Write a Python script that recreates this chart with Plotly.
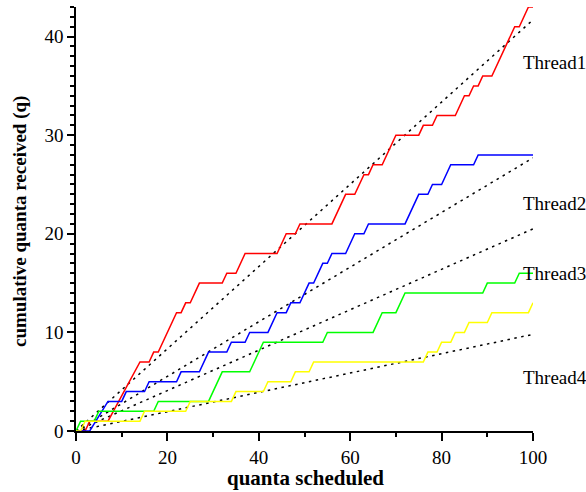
import plotly.graph_objects as go

# ---- data ----
t1_x = [0, 2, 3, 7, 14, 16, 17, 18, 22, 23, 24, 25, 27, 32, 33, 35, 37, 44, 46, 48, 49, 56, 59, 61, 63, 64, 65, 67, 70, 75, 76, 78, 79, 83, 85, 86, 87, 88, 89, 91, 96, 97, 99, 100]
t1_y = [0, 0, 1, 1, 7, 7, 8, 8, 12, 12, 13, 13, 15, 15, 16, 16, 18, 18, 20, 20, 21, 21, 24, 24, 26, 26, 27, 27, 30, 30, 31, 31, 32, 32, 34, 34, 35, 35, 36, 36, 41, 41, 43, 43]

t2_x = [0, 3, 7, 10, 11, 15, 16, 22, 23, 27, 29, 33, 34, 37, 38, 42, 44, 46, 47, 49, 51, 52, 54, 55, 56, 59, 61, 63, 64, 72, 75, 77, 78, 80, 82, 87, 88, 100]
t2_y = [0, 0, 3, 3, 4, 4, 5, 5, 6, 6, 8, 8, 9, 9, 10, 10, 12, 12, 13, 13, 15, 15, 17, 17, 18, 18, 20, 20, 21, 21, 24, 24, 25, 25, 27, 27, 28, 28]

t3_x = [0, 1, 4, 5, 17, 18, 29, 32, 38, 41, 54, 55, 65, 67, 70, 72, 89, 90, 96, 97, 100]
t3_y = [0, 1, 1, 2, 2, 3, 3, 6, 6, 9, 9, 10, 10, 12, 12, 14, 14, 15, 15, 16, 16]

t4_x = [0, 1, 2, 14, 15, 24, 25, 34, 35, 41, 42, 47, 48, 51, 52, 76, 77, 79, 80, 82, 83, 85, 86, 90, 91, 99, 100]
t4_y = [0, 0, 1, 1, 2, 2, 3, 3, 4, 4, 5, 5, 6, 6, 7, 7, 8, 8, 9, 9, 10, 10, 11, 11, 12, 12, 13]

# fair-share (expected) rate per quantum for each thread
share_rates = [0.417, 0.277, 0.205, 0.098]
share_x = [0, 100]

thread_names = ["Thread1", "Thread2", "Thread3", "Thread4"]
thread_colors = ["#ff0000", "#0000ff", "#00ff00", "#ffff00"]
label_y = [37.4, 23.1, 16.0, 5.4]

x_title = "quanta scheduled"
y_title = "cumulative quanta received (q)"

# ---- figure ----
FONT = "Liberation Serif, Times New Roman, serif"
fig = go.Figure()

for rate in share_rates:
    fig.add_trace(go.Scatter(
        x=share_x, y=[rate * v for v in share_x], mode="lines",
        line=dict(color="black", width=1.5, dash="2.5px,4.5px"),
        showlegend=False, hoverinfo="skip"))

series = [(t1_x, t1_y), (t2_x, t2_y), (t3_x, t3_y), (t4_x, t4_y)]
for (xs, ys), name, col in zip(series, thread_names, thread_colors):
    fig.add_trace(go.Scatter(
        x=xs, y=ys, mode="lines", name=name,
        line=dict(color=col, width=1.5),
        showlegend=False))

for name, ly in zip(thread_names, label_y):
    fig.add_annotation(
        x=97.4, y=ly, xref="x", yref="y", text=name, showarrow=False,
        xanchor="left", yanchor="middle",
        font=dict(family=FONT, size=19, color="black"))

fig.add_annotation(
    x=0.503, y=-0.111, xref="paper", yref="paper", text="<b>%s</b>" % x_title,
    showarrow=False, xanchor="center", yanchor="middle",
    font=dict(family=FONT, size=21, color="black"))
fig.add_annotation(
    x=-0.1225, y=0.493, xref="paper", yref="paper", text="<b>%s</b>" % y_title,
    showarrow=False, xanchor="center", yanchor="middle", textangle=-90,
    font=dict(family=FONT, size=19, color="black"))

fig.update_layout(
    width=586, height=492,
    margin=dict(l=76, r=53, t=7, b=61),
    paper_bgcolor="white", plot_bgcolor="white",
    font=dict(family=FONT, size=19, color="black"),
    xaxis=dict(
        range=[0, 100], tickmode="linear", tick0=0, dtick=20,
        showgrid=False, zeroline=False, showline=True,
        linecolor="black", linewidth=1.5,
        ticks="outside", ticklen=8, tickwidth=1.5, tickcolor="black",
        minor=dict(dtick=10, ticks="outside", ticklen=4, tickwidth=1.5,
                   tickcolor="black", showgrid=False),
        tickfont=dict(family=FONT, size=19, color="black")),
    yaxis=dict(
        range=[0, 43], tickmode="linear", tick0=0, dtick=10,
        showgrid=False, zeroline=False, showline=True,
        linecolor="black", linewidth=1.5,
        ticks="outside", ticklen=7, tickwidth=1.5, tickcolor="black",
        minor=dict(dtick=1, ticks="outside", ticklen=4, tickwidth=1.5,
                   tickcolor="black", showgrid=False),
        tickfont=dict(family=FONT, size=19, color="black")),
)

fig.write_html(
    "out.html",
    config={"displayModeBar": False},
    post_script="document.body.style.margin='0';document.body.style.overflow='hidden';",
)
